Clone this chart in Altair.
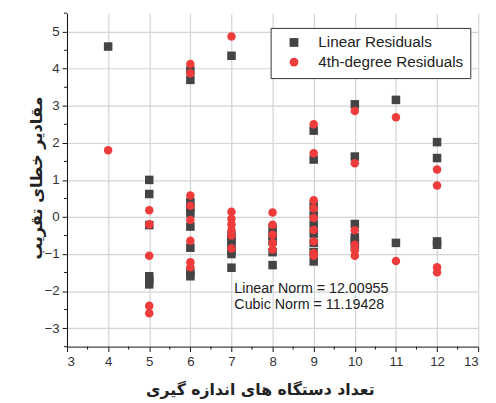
import altair as alt
import pandas as pd

lin_x = [4, 5, 5, 5, 5, 5, 5, 6, 6, 6, 6, 6, 6, 6, 6, 6,
         7, 7, 7, 7, 7, 7, 7, 8, 8, 8, 8, 8,
         9, 9, 9, 9, 9, 9, 9, 9, 9, 10, 10, 10, 10, 10, 10, 11, 11, 12, 12, 12, 12]
lin_y = [4.6, 1.0, 0.62, -0.22, -1.6, -1.7, -1.82, 3.95, 3.7, 0.4, 0.25, 0.1, -0.26, -0.83, -1.5, -1.6,
         4.35, -0.5, -0.62, -0.75, -0.9, -1.0, -1.37, -0.3, -0.5, -0.66, -0.95, -1.3,
         2.33, 1.55, 0.3, 0.05, -0.2, -0.45, -0.7, -0.95, -1.2, 3.04, 1.63, -0.19, -0.55, -0.65, -0.8,
         3.16, -0.7, 2.02, 1.59, -0.66, -0.75]

quart_x = [4, 5, 5, 5, 5, 5, 6, 6, 6, 6, 6, 6, 6, 6,
           7, 7, 7, 7, 7, 7, 7, 8, 8, 8, 8, 8,
           9, 9, 9, 9, 9, 9, 9, 9, 9, 10, 10, 10, 10, 10, 10, 11, 11, 12, 12, 12, 12]
quart_y = [1.8, 0.18, -0.2, -1.05, -2.4, -2.6, 4.13, 3.88, 0.58, 0.3, -0.08, -0.64, -1.22, -1.36,
           4.87, 0.14, -0.05, -0.2, -0.35, -0.5, -0.85, 0.12, -0.21, -0.48, -0.7, -0.88,
           2.5, 1.72, 0.45, 0.23, -0.03, -0.35, -0.66, -0.97, -1.05, 2.86, 1.45, -0.36, -0.75, -0.9, -1.05,
           2.69, -1.19, 1.28, 0.85, -1.36, -1.49]

series_names = ["Linear Residuals", "4th-degree Residuals"]
series_colors = ["#444444", "#EE3B3B"]
series_shapes = ["square", "circle"]

note_lines = ["Linear Norm = 12.00955", "Cubic Norm = 11.19428"]
note_x = [7.07, 7.07]
note_y = [-1.94, -2.38]

x_ticks = list(range(3, 14))
y_ticks = list(range(-3, 6))
x_minor = [v + 0.5 for v in range(3, 13)]
y_minor = [v + 0.5 for v in range(-4, 6)]

x_title = "تعداد دستگاه های اندازه گیری"
y_title = "مقادیر خطای تقریب"

W, H = 418, 339

df = pd.DataFrame({
    "x": lin_x + quart_x,
    "y": lin_y + quart_y,
    "s": [series_names[0]] * len(lin_x) + [series_names[1]] * len(quart_x),
})
df["o"] = [0] * len(lin_x) + [1] * len(quart_x)

notes = pd.DataFrame({"x": note_x, "y": note_y, "t": note_lines})

xs = alt.Scale(domain=[3, 13], nice=False, zero=False)
ys = alt.Scale(domain=[-3.5, 5.5], nice=False, zero=False)

points = alt.Chart(df).mark_point(filled=True, opacity=1, size=75).encode(
    x=alt.X("x:Q", scale=xs, axis=alt.Axis(
        values=x_ticks, title=x_title, grid=True,
        titleFont="DejaVu Sans", titleFontSize=16, titleFontWeight="bold",
        titleColor="#222", titleX=196, titleY=44, titleAlign="center",
        titleBaseline="middle")),
    y=alt.Y("y:Q", scale=ys, axis=alt.Axis(
        values=y_ticks, title=y_title, grid=True,
        titleFont="DejaVu Sans", titleFontSize=16.5, titleFontWeight="bold",
        titleColor="#222", titleX=-31, titleY=167, titleAlign="center",
        titleBaseline="middle", titleAngle=270)),
    color=alt.Color("s:N", scale=alt.Scale(domain=series_names, range=series_colors),
                    legend=alt.Legend(title=None, orient="none", legendX=207, legendY=15,
                                      strokeColor="#333", fillColor="white", padding=7,
                                      symbolOffset=9,
                                      labelFont="Liberation Sans", labelFontSize=15.5,
                                      labelColor="#222", symbolSize=80, rowPadding=3,
                                      symbolOpacity=1, labelOffset=17, cornerRadius=0)),
    shape=alt.Shape("s:N", scale=alt.Scale(domain=series_names, range=series_shapes)),
    order=alt.Order("o:Q"),
)

text = alt.Chart(notes).mark_text(align="left", baseline="middle", font="Liberation Sans",
                                  fontSize=14.5, color="#222").encode(
    x=alt.X("x:Q", scale=xs),
    y=alt.Y("y:Q", scale=ys),
    text="t:N",
)

xminor = alt.Chart(pd.DataFrame({"v": x_minor})).mark_rule(color="#111").encode(
    x=alt.X("v:Q", scale=xs),
    y=alt.value(H), y2=alt.value(H + 3),
)
yminor = alt.Chart(pd.DataFrame({"v": y_minor})).mark_rule(color="#111").encode(
    y=alt.Y("v:Q", scale=ys),
    x=alt.value(-3), x2=alt.value(0),
)

chart = alt.layer(points, text, xminor, yminor).properties(
    width=W, height=H,
    padding={"left": 60, "top": 2, "right": 10, "bottom": 52},
    autosize=alt.AutoSizeParams(type="none"),
).configure_axis(
    labelFont="Liberation Sans", labelFontSize=13.5, labelColor="#333",
    domainColor="#111", tickColor="#111", tickSize=5, gridColor="#d4d4d4",
    gridWidth=1.2, labelPadding=3,
).configure_view(stroke=None)

chart.save("out.html", embed_options={"renderer": "svg", "actions": False})
